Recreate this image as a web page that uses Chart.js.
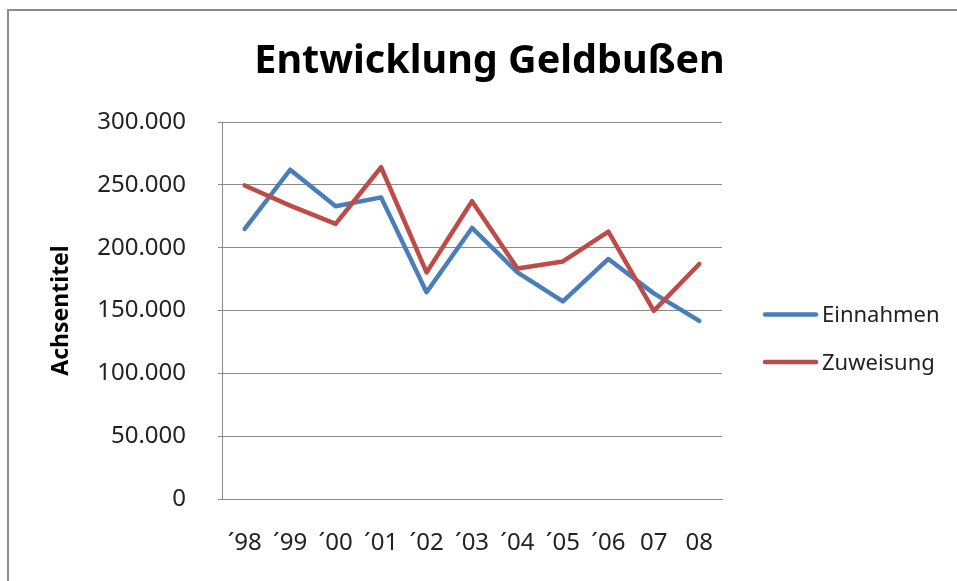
<!DOCTYPE html>
<html lang="de">
<head>
<meta charset="utf-8">
<title>Entwicklung Geldbußen</title>
<script src="https://cdn.jsdelivr.net/npm/chart.js@4/dist/chart.umd.min.js"></script>
<style>
  html, body { margin: 0; padding: 0; background: #fff; overflow: hidden; }
  #wrap { position: relative; width: 957px; height: 581px; }
  /* Rahmen des Diagrammbereichs (rechts/unten ausserhalb des Fensters) */
  #frame { position: absolute; left: 7px; top: 9px; width: 1000px; height: 1000px;
           border: 2px solid #8c8c8c; box-sizing: border-box; }
  #chart { position: absolute; left: 0; top: 0; }
</style>
</head>
<body>
<div id="wrap">
  <div id="frame"></div>
  <canvas id="chart" width="957" height="581"></canvas>
</div>
<script>
  // Jahre und Beträge (EUR)
  const jahre = ["\u00B498", "\u00B499", "\u00B400", "\u00B401", "\u00B402", "\u00B403", "\u00B404", "\u00B405", "\u00B406", "07", "08"];
  const einnahmen = [214900, 262000, 233000, 240000, 164500, 215700, 180300, 157200, 191000, 163600, 141800];
  const zuweisung = [249500, 233500, 219000, 264000, 180300, 237000, 183500, 189000, 212800, 149700, 187000];
  const yTicks = [0, 50000, 100000, 150000, 200000, 250000, 300000];

  const FONT = "'Noto Sans', 'Open Sans', sans-serif";
  const BLAU = "#4a7ebb";
  const ROT = "#be4b48";
  const GRAU = "#8a8a8a";

  // 300000 -> "300.000"
  const fmt = (v) => String(v).replace(/\B(?=(\d{3})+(?!\d))/g, ".");

  /* Legende rechts neben der Zeichenfläche: Linie + Beschriftung */
  const legendeRechts = {
    id: "legendeRechts",
    afterDraw(chart) {
      const ctx = chart.ctx;
      ctx.save();
      chart.data.datasets.forEach((ds, i) => {
        const y = 314.5 + i * 47.5;
        ctx.strokeStyle = ds.borderColor;
        ctx.lineWidth = 4.5;
        ctx.lineCap = "round";
        ctx.beginPath();
        ctx.moveTo(765, y);
        ctx.lineTo(816, y);
        ctx.stroke();
        ctx.fillStyle = "#222";
        ctx.font = "22px " + FONT;
        ctx.textBaseline = "middle";
        ctx.fillText(ds.label, 822, y + 1.5);
      });
      ctx.restore();
    }
  };

  new Chart(document.getElementById("chart"), {
    type: "line",
    data: {
      labels: jahre,
      datasets: [
        { label: "Einnahmen", data: einnahmen, borderColor: BLAU, order: 2 },
        { label: "Zuweisung", data: zuweisung, borderColor: ROT, order: 1 },
      ],
    },
    options: {
      responsive: false,
      animation: false,
      layout: { padding: { left: 22, right: 0, top: 0, bottom: 0 } },
      elements: {
        line: { borderWidth: 4.5, tension: 0, borderCapStyle: "round", borderJoinStyle: "round", fill: false },
        point: { radius: 0, hoverRadius: 0 },
      },
      plugins: {
        legend: { display: false },
        tooltip: { enabled: false },
        title: {
          display: true,
          text: "Entwicklung Geldbußen",
          color: "#000",
          font: { family: FONT, size: 39.5, weight: "bold" },
          padding: { top: 38, bottom: 36.6 },
        },
      },
      scales: {
        x: {
          offset: true,
          grid: { display: false, drawTicks: false },
          border: { display: true, color: GRAU, width: 1 },
          ticks: { color: "#222", font: { family: FONT, size: 24 }, padding: 30, autoSkip: false, maxRotation: 0 },
          afterFit(s) { s.height = 82; },
        },
        y: {
          min: 0, max: 300000,
          afterBuildTicks(s) { s.ticks = yTicks.map(v => ({ value: v })); },
          grid: { color: GRAU, lineWidth: 1, drawTicks: true, tickLength: 4 },
          border: { display: true, color: GRAU, width: 1 },
          ticks: { color: "#222", font: { family: FONT, size: 24 }, padding: 32, callback: (v) => fmt(v) },
          title: {
            display: true, text: "Achsentitel", color: "#000",
            font: { family: FONT, size: 23, weight: "bold" },
            padding: { top: 26, bottom: 0 },
          },
          afterFit(s) { s.width = 200; },
        },
        // Platzhalter rechts, damit Platz für die Legende bleibt
        legendRaum: {
          position: "right",
          grid: { display: false, drawTicks: false },
          border: { display: false },
          ticks: { display: false },
          afterFit(s) { s.width = 235; },
        },
      },
    },
    plugins: [legendeRechts],
  });
</script>
</body>
</html>
